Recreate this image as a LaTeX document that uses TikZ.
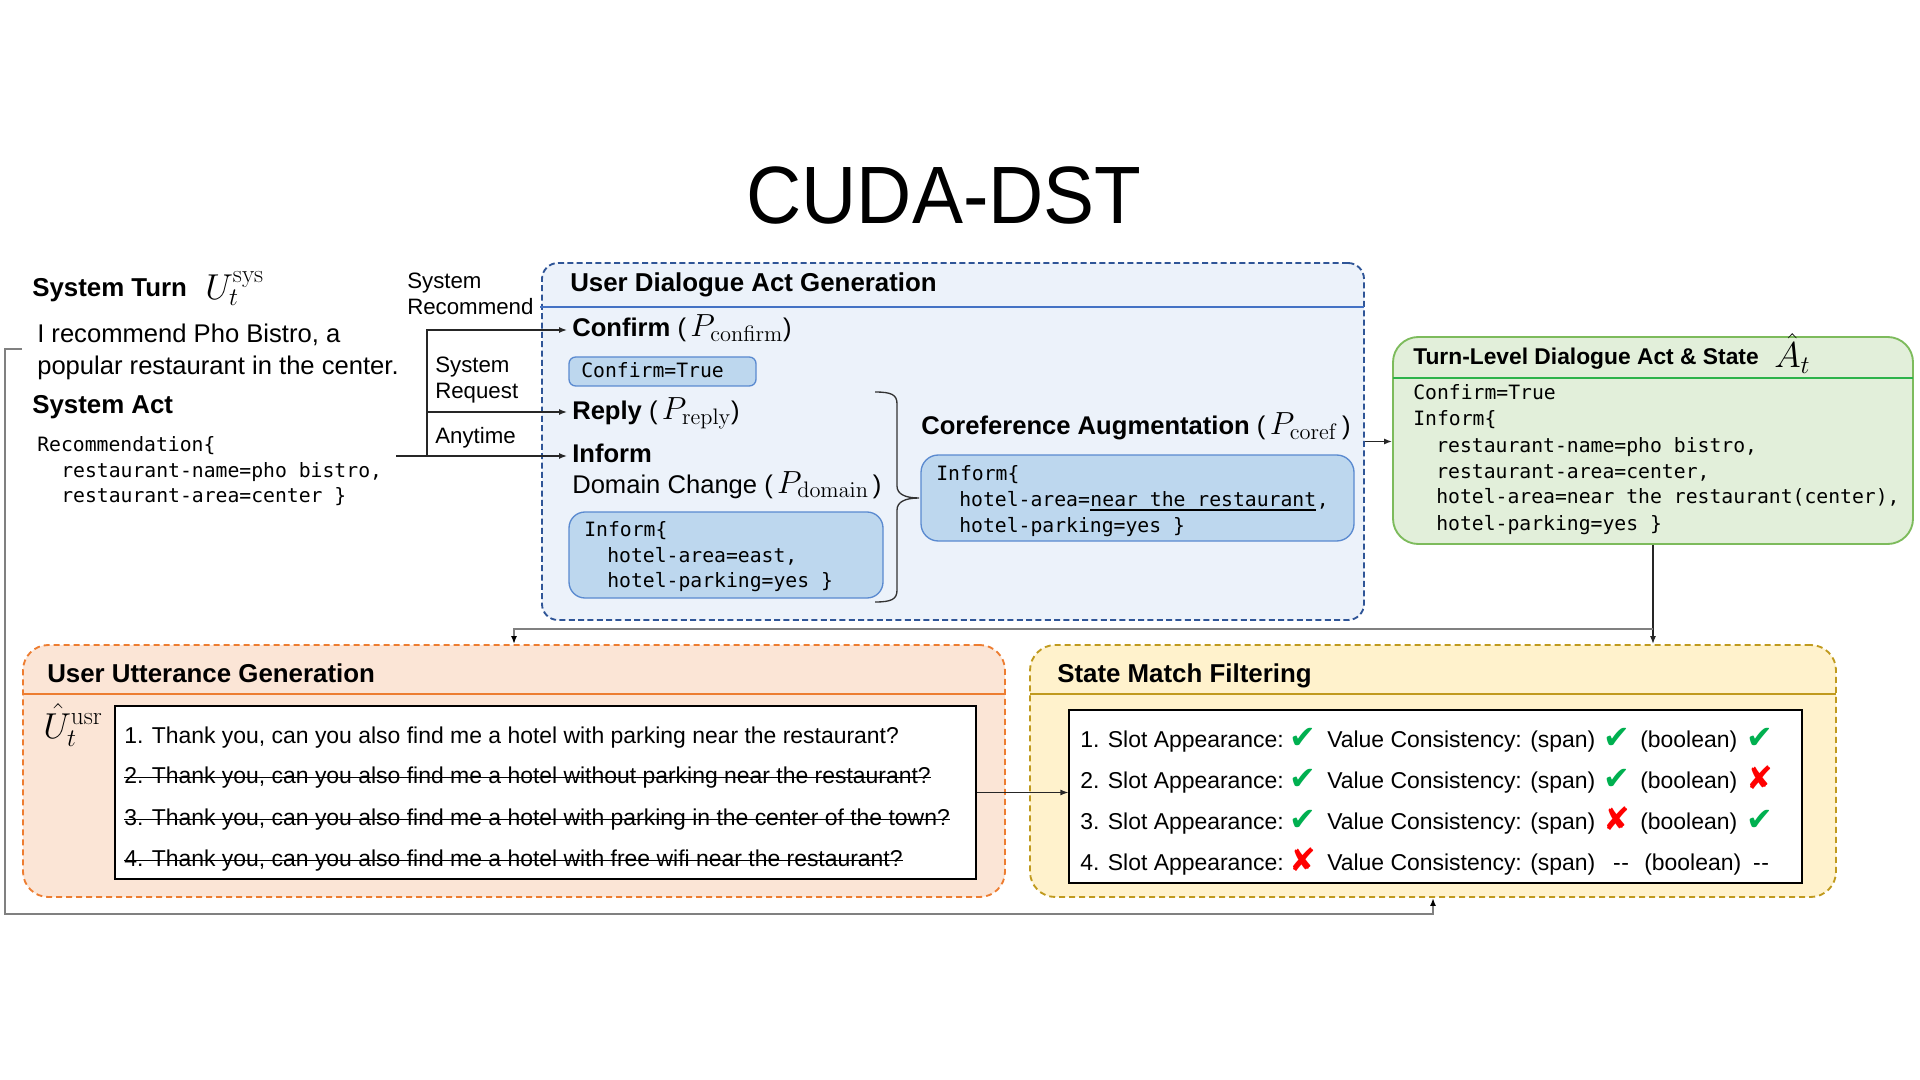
\RequirePackage{fix-cm}
\documentclass[tikz,border=0pt]{standalone}
\usepackage[no-math]{fontspec}
\setmainfont{Liberation Sans}
\newfontfamily\monof{DejaVu Sans Mono}
\newfontfamily\symf{DejaVu Sans}
\usepackage{graphicx}
\usetikzlibrary{arrows.meta,fit}
\definecolor{bfill}{HTML}{ECF2FA}
\definecolor{bline}{HTML}{2F5597}
\definecolor{bsep}{HTML}{4472C4}
\definecolor{binner}{HTML}{BDD7EE}
\definecolor{binline}{HTML}{5A8AD0}
\definecolor{gfill}{HTML}{E2EFDA}
\definecolor{gline}{HTML}{7DBB5C}
\definecolor{gsep}{HTML}{2DB34A}
\definecolor{ofill}{HTML}{FBE5D6}
\definecolor{oline}{HTML}{ED7D31}
\definecolor{yfill}{HTML}{FFF2CC}
\definecolor{yline}{HTML}{C09A1E}
\definecolor{okg}{HTML}{00B050}
\definecolor{bad}{HTML}{FF0000}
\definecolor{cgray}{HTML}{808080}
\newcommand\mth[1]{{\fontsize{24}{26}\selectfont$#1$}}
\newcommand\bmth[1]{{\fontsize{27}{29}\selectfont$#1$}}
\newcommand\okm{{\symf\fontsize{24}{26}\selectfont\textcolor{okg}{✔}}}
\newcommand\badm{{\symf\fontsize{24}{26}\selectfont\textcolor{bad}{✘}}}
\begin{document}
\begin{tikzpicture}[x=0.75pt,y=-0.75pt,
  txt/.style={inner sep=0pt, anchor=base west},
  head/.style={txt, font=\fontsize{19.4}{23}\selectfont\bfseries},
  body/.style={txt, font=\fontsize{19.2}{23}\selectfont},
  lbl/.style={txt, font=\fontsize{16.7}{19.5}\selectfont},
  codetxt/.style={txt, font=\monof\fontsize{14.8}{19.5}\selectfont},
  itm/.style={txt, font=\fontsize{17.2}{20}\selectfont},
  chk/.style={inner sep=0pt, anchor=base},
  region/.style={inner sep=0pt, line width=1.4pt},
  inbox/.style={inner sep=0pt, fill=binner, draw=binline, line width=1pt},
  wbox/.style={inner sep=0pt, fill=white, draw=black, line width=0.9pt},
  conn/.style={line width=1pt, draw=black!85, -{Latex[length=6pt,width=4.5pt]}},
  conng/.style={line width=1.4pt, draw=cgray, -{Latex[length=6pt,width=4.5pt,color=black]}},
  lnplain/.style={line width=1pt, draw=black!85},
  stk/.style={line width=0.9pt, draw=black}
]
\useasboundingbox (0,0) rectangle (1920,1080);

% title
\node[inner sep=0pt, anchor=base, font=\fontsize{61}{61}\selectfont] (title) at (944,224) {\scalebox{0.94}[1]{CUDA-DST}};

% system turn
\node[head] (st) at (32,297) {System Turn};
\node[txt] (stU) at (205,300) {\bmth{U_t^{\mathrm{sys}}}};
\node[body] (sys1) at (37,343) {I recommend Pho Bistro, a};
\node[body] (sys2) at (37,375) {popular restaurant in the center.};
\node[head] (sact) at (32,413) {System Act};
\node[codetxt] (rc1) at (37,451) {Recommendation\{};
\node[codetxt] (rc2) at (61,477) {restaurant-name=pho bistro,};
\node[codetxt] (rc3) at (61,502) {restaurant-area=center \}};

% labels
\node[lbl] (l1a) at (407,289) {System};
\node[lbl] (l1b) at (407,315) {Recommend};
\node[lbl] (l2a) at (435,373) {System};
\node[lbl] (l2b) at (435,398) {Request};
\node[lbl] (l3) at (435,443) {Anytime};

% user dialogue act generation
\node[region, fit={(542,263) (1364,620)}, fill=bfill, draw=bline, dash pattern=on 4.5pt off 2.5pt, rounded corners=12pt] (udag) {};
\draw[bsep, line width=1pt] (540,307) -- (1364,307);
\node[head] (udt) at (570,292) {User Dialogue Act Generation};
\node[body] (cf) at (572,337) {\textbf{Confirm} (\,\mth{P_{\mathrm{confirm}}})};
\node[inbox, fit={(569,357) (756,386)}, rounded corners=5pt] (cfbox) {};
\node[codetxt] (cftxt) at (581,378) {Confirm=True};
\node[body] (rp) at (572,420) {\textbf{Reply} (\,\mth{P_{\mathrm{reply}}})};
\node[body] (inf) at (572,462) {\textbf{Inform}};
\node[body] (dc) at (572,493) {Domain Change (\,\mth{P_{\mathrm{domain}}}\,)};
\node[inbox, fit={(569,512) (883,598)}, rounded corners=12pt] (dbox) {};
\node[codetxt] (d1) at (584,536) {Inform\{};
\node[codetxt] (d2) at (607,562) {hotel-area=east,};
\node[codetxt] (d3) at (607,587) {hotel-parking=yes \}};

% brace
\draw[line width=1pt, black!80] (875,392) .. controls (892,392) and (897,395) .. (897,404) -- (897,486) .. controls (897,494) and (905,498) .. (919,498) .. controls (905,498) and (897,502) .. (897,510) -- (897,590) .. controls (897,599) and (892,602) .. (875,602);

% coreference
\node[body] (coh) at (921,435) {\textbf{Coreference Augmentation} (\,\mth{P_{\mathrm{coref}}}\,)};
\node[inbox, fit={(921,455) (1354,541)}, rounded corners=13pt] (cobox) {};
\node[codetxt] (c1) at (936,480) {Inform\{};
\node[codetxt] (c2a) at (959,506) {hotel-area=};
\node[codetxt] (c2b) at (c2a.base east) {near the restaurant};
\node[codetxt] (c2c) at (c2b.base east) {,};
\draw[line width=0.8pt] ([yshift=-3pt]c2b.base west) -- ([yshift=-3pt]c2b.base east);
\node[codetxt] (c3) at (959,532) {hotel-parking=yes \}};

% turn-level
\node[region, fit={(1393,337) (1913,544)}, fill=gfill, draw=gline, rounded corners=19pt] (gbox) {};
\draw[gsep, line width=1pt] (1393,378) -- (1913,378);
\node[txt, font=\fontsize{17.1}{20}\selectfont\bfseries] (gt) at (1413,365) {Turn-Level Dialogue Act \& State};
\node[txt] (gA) at (1774,368) {\bmth{\hat{A}_t}};
\node[codetxt] (g1) at (1413,400) {Confirm=True};
\node[codetxt] (g2) at (1413,426) {Inform\{};
\node[codetxt] (g3) at (1436,452) {restaurant-name=pho bistro,};
\node[codetxt] (g4) at (1436,478) {restaurant-area=center,};
\node[codetxt] (g5) at (1436,503) {hotel-area=near the restaurant(center),};
\node[codetxt] (g6) at (1436,530) {hotel-parking=yes \}};

% user utterance generation
\node[region, fit={(23,645) (1005,897)}, fill=ofill, draw=oline, dash pattern=on 4.5pt off 3pt, rounded corners=19pt] (obox) {};
\draw[oline, line width=1.2pt] (23,694) -- (1005,694);
\node[head] (ot) at (47,682) {User Utterance Generation};
\node[txt] (oU) at (43,738) {\bmth{\hat{U}_t^{\mathrm{usr}}}};
\node[wbox, fit={(115,706) (976,879)}] (owhite) {};
\node[itm] (u1) at (124,743) {1. Thank you, can you also find me a hotel with parking near the restaurant?};
\node[itm] (u2) at (124,783) {2. Thank you, can you also find me a hotel without parking near the restaurant?};
\node[itm] (u3) at (124,825) {3. Thank you, can you also find me a hotel with parking in the center of the town?};
\node[itm] (u4) at (124,866) {4. Thank you, can you also find me a hotel with free wifi near the restaurant?};
\foreach \u in {u2,u3,u4}
  \draw[stk] ([yshift=4.2pt]\u.base west) -- ([yshift=4.2pt]\u.base east);

% state match filtering
\node[region, fit={(1030,645) (1836,897)}, fill=yfill, draw=yline, dash pattern=on 4.5pt off 3pt, rounded corners=19pt] (ybox) {};
\draw[yline, line width=1.2pt] (1030,694) -- (1836,694);
\node[head] (yt) at (1057,682) {State Match Filtering};
\node[wbox, fit={(1069,710) (1802,883)}] (ywhite) {};

\node[itm] (r1a) at (1080,747) {1. Slot Appearance:};
\node[chk] (r1m1) at (1303,748) {\okm};
\node[itm] (r1b) at (1327,747) {Value Consistency: (span)};
\node[chk] (r1m2) at (1617,748) {\okm};
\node[itm] (r1c) at (1640,747) {(boolean)};
\node[chk] (r1m3) at (1760,748) {\okm};

\node[itm] (r2a) at (1080,788) {2. Slot Appearance:};
\node[chk] (r2m1) at (1303,789) {\okm};
\node[itm] (r2b) at (1327,788) {Value Consistency: (span)};
\node[chk] (r2m2) at (1617,789) {\okm};
\node[itm] (r2c) at (1640,788) {(boolean)};
\node[chk] (r2m3) at (1760,789) {\badm};

\node[itm] (r3a) at (1080,829) {3. Slot Appearance:};
\node[chk] (r3m1) at (1303,830) {\okm};
\node[itm] (r3b) at (1327,829) {Value Consistency: (span)};
\node[chk] (r3m2) at (1617,830) {\badm};
\node[itm] (r3c) at (1640,829) {(boolean)};
\node[chk] (r3m3) at (1760,830) {\okm};

\node[itm] (r4a) at (1080,870) {4. Slot Appearance:};
\node[chk] (r4m1) at (1303,871) {\badm};
\node[itm] (r4b) at (1327,870) {Value Consistency: (span)};
\node[chk, font=\fontsize{17.2}{20}\selectfont] (r4m2) at (1621,870) {-\kern0.5pt-};
\node[itm] (r4c) at (1644,870) {(boolean)};
\node[chk, font=\fontsize{17.2}{20}\selectfont] (r4m3) at (1761,870) {-\kern0.5pt-};

% connectors
\coordinate (sa) at (396,456);
\coordinate (jn) at (427,456);
\coordinate (tipC) at (567,330);
\coordinate (tipR) at (567,412);
\coordinate (tipI) at (567,456);
\draw[lnplain] (sa) -- (jn);
\draw[conn] (jn) |- (tipC);
\draw[conn] (jn |- tipR) -- (tipR);
\draw[conn] (jn) -- (tipI);

\draw[conn] (udag.east) -- (udag.east -| gbox.west);
\draw[conn] (gbox.south) -- (gbox.south |- ybox.north);
\path (gbox.south) ++(0,84) coordinate (hR);
\draw[conng] (hR) -| (obox.north);
\draw[conn] (owhite.east) -- (owhite.east -| ywhite.west);

\coordinate (fb) at (22,349);
\draw[conng] (fb) -- ++(-17,0) -- ++(0,565) -| (ybox.south);
\end{tikzpicture}
\end{document}
